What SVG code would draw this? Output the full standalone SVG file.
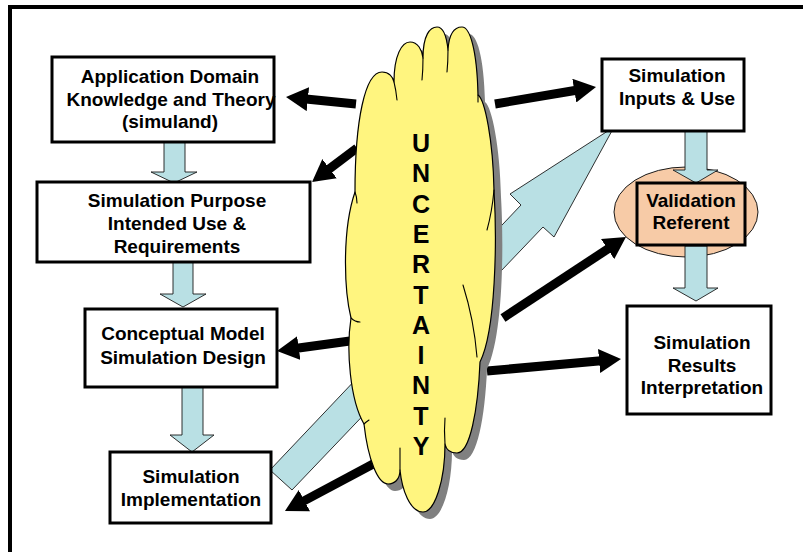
<svg xmlns="http://www.w3.org/2000/svg" width="803" height="552" viewBox="0 0 803 552">
  <style>
    .box { fill: #ffffff; stroke: #000000; stroke-width: 3; }
    .lbl { font-family: "Liberation Sans", Arial, sans-serif; font-weight: bold; font-size: 19px; fill: #000000; text-anchor: middle; }
    .flow { fill: #b9e0e4; stroke: #1a1a1a; stroke-width: 0.9; stroke-linejoin: miter; }
    .push { fill: none; stroke: #000000; stroke-width: 9; }
    .cloud { fill: #fff57f; stroke: #000000; stroke-width: 1.2; stroke-linejoin: round; }
    .cloud-shadow { fill: #808080; }
    .crease { fill: none; stroke: #000000; stroke-width: 1.1; stroke-linecap: round; }
    .vert { font-family: "Liberation Sans", Arial, sans-serif; font-weight: bold; font-size: 25px; fill: #000000; text-anchor: middle; }
  </style>
  <defs>
    <marker id="head" viewBox="0 0 22 24" markerWidth="22" markerHeight="24" markerUnits="userSpaceOnUse" refX="2" refY="12" orient="auto">
      <path d="M0,0 L22,12 L0,24 Z" fill="#000000"/>
    </marker>
    <path id="cloud-outline" d="M355,192 C355,120 365,72 382,72 C389,72 393,77 394,82 C394,55 402,42 410,42 C418,42 422,50 423,58 C423,35 430,27 437,27 C444,27 447,40 448,50 C449,33 455,27 462,27 C470,27 477,50 478,95 C485,100 493,140 494,190 C497,240 496,330 480,362 C478,410 470,453 457,453 C450,453 446,449 445,444 C445,480 435,512 423,512 C410,512 402,490 400,470 C400,480 394,484 388,484 C378,484 368,460 364,424 C350,400 346,350 351,318 C344,290 342,230 355,192 Z"/>
  </defs>

  <!-- frame -->
  <rect x="10" y="7" width="800" height="560" fill="#ffffff" stroke="#000000" stroke-width="4"/>

  <!-- referent ellipse sits under the arrows that enter and leave it -->
  <g id="validation-referent-ring">
    <ellipse cx="686" cy="212" rx="72" ry="45" fill="#f7cba7" stroke="#1a1a1a" stroke-width="1"/>
  </g>

  <!-- connectors -->
  <g id="connectors">
    <!-- block arrows between stages -->
    <polygon class="flow" points="164,141 185,141 185,172 197,172 174,183 151,172 164,172"/>
    <polygon class="flow" points="173,261 193,261 193,294 206,294 183,307 160,294 173,294"/>
    <polygon class="flow" points="182,386 203,386 203,435 214,435 192,452 170,435 182,435"/>
    <polygon class="flow" points="685,130 707,130 707,170 718,170 696,183 673,170 685,170"/>
    <polygon class="flow" points="685,246 707,246 707,288 718,288 696,301 673,288 685,288"/>
    <!-- long arrow from implementation back to inputs -->
    <polygon class="flow" points="270,470 521,205 510,194 614,127 554,237 543,227 292,490"/>
    <!-- uncertainty effects -->
    <line class="push" x1="356" y1="104" x2="305.9" y2="99" marker-end="url(#head)"/>
    <line class="push" x1="357" y1="148" x2="328" y2="169.9" marker-end="url(#head)"/>
    <line class="push" x1="350" y1="341" x2="296.8" y2="348.3" marker-end="url(#head)"/>
    <line class="push" x1="375" y1="463" x2="302.6" y2="501.6" marker-end="url(#head)"/>
    <line class="push" x1="495" y1="104" x2="576.3" y2="90.3" marker-end="url(#head)"/>
    <line class="push" x1="503" y1="318" x2="609.3" y2="248" marker-end="url(#head)"/>
    <line class="push" x1="487" y1="371" x2="601.1" y2="360.8" marker-end="url(#head)"/>
  </g>

  <!-- uncertainty cloud -->
  <g id="uncertainty">
    <use href="#cloud-outline" class="cloud-shadow" transform="translate(7,7)"/>
    <use href="#cloud-outline" class="cloud"/>
    <path class="crease" d="M394,82 Q396,90 397,100"/>
    <path class="crease" d="M423,58 Q423,70 422,80"/>
    <path class="crease" d="M448,50 Q448,62 447,72"/>
    <path class="crease" d="M478,95 L478,102"/>
    <path class="crease" d="M494,190 Q492,212 487,230"/>
    <path class="crease" d="M463,285 Q474,320 477,357"/>
    <path class="crease" d="M445,444 Q444,430 445,418"/>
    <path class="crease" d="M400,470 L400,448"/>
    <path class="crease" d="M364,424 Q366,422 369,420"/>
    <path class="crease" d="M351,318 Q355,322 360,322"/>
    <path class="crease" d="M355,192 Q357,197 357,203"/>
    <text class="vert" x="421" y="152">U</text>
    <text class="vert" x="421" y="182.3">N</text>
    <text class="vert" x="421" y="212.6">C</text>
    <text class="vert" x="421" y="242.9">E</text>
    <text class="vert" x="421" y="273.2">R</text>
    <text class="vert" x="421" y="303.5">T</text>
    <text class="vert" x="421" y="333.8">A</text>
    <text class="vert" x="421" y="364.1">I</text>
    <text class="vert" x="421" y="394.4">N</text>
    <text class="vert" x="421" y="424.7">T</text>
    <text class="vert" x="421" y="455">Y</text>
  </g>

  <g id="domain-knowledge">
    <rect class="box" x="52" y="57" width="222" height="85"/>
    <text class="lbl" x="170" y="83">Application Domain</text>
    <text class="lbl" x="171" y="106">Knowledge and Theory</text>
    <text class="lbl" x="170" y="128">(simuland)</text>
  </g>

  <g id="purpose">
    <rect class="box" x="37" y="182" width="273" height="80"/>
    <text class="lbl" x="177" y="207">Simulation Purpose</text>
    <text class="lbl" x="177" y="230">Intended Use &amp;</text>
    <text class="lbl" x="177" y="253">Requirements</text>
  </g>

  <g id="conceptual-model">
    <rect class="box" x="85" y="309" width="192" height="78"/>
    <text class="lbl" x="183" y="340">Conceptual Model</text>
    <text class="lbl" x="183" y="364">Simulation Design</text>
  </g>

  <g id="implementation">
    <rect class="box" x="110" y="452" width="161" height="71"/>
    <text class="lbl" x="191" y="483">Simulation</text>
    <text class="lbl" x="191" y="506">Implementation</text>
  </g>

  <g id="inputs-use">
    <rect class="box" x="602" y="59" width="142" height="72"/>
    <text class="lbl" x="677" y="82">Simulation</text>
    <text class="lbl" x="677" y="105">Inputs &amp; Use</text>
  </g>

  <g id="validation-referent">
    <rect x="637" y="183" width="108" height="62" fill="#f7cba7" stroke="#000000" stroke-width="3"/>
    <text class="lbl" x="691" y="207">Validation</text>
    <text class="lbl" x="691" y="229">Referent</text>
  </g>

  <g id="results-interpretation">
    <rect class="box" x="627" y="306" width="144" height="108"/>
    <text class="lbl" x="702" y="349">Simulation</text>
    <text class="lbl" x="702" y="372">Results</text>
    <text class="lbl" x="702" y="394">Interpretation</text>
  </g>
</svg>
